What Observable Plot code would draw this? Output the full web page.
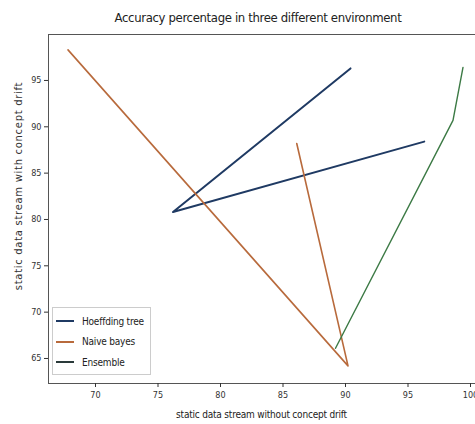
<!DOCTYPE html>
<html>
<head>
<meta charset="utf-8">
<script src="https://cdn.jsdelivr.net/npm/d3@7"></script>
<script src="https://cdn.jsdelivr.net/npm/@observablehq/plot@0.6"></script>
<style>
  body { margin: 0; background: #fff; }
  #wrap { position: relative; width: 475px; height: 424px; overflow: hidden; font-family: "DejaVu Sans", sans-serif; font-stretch: condensed; }
  #title { position: absolute; top: 10px; left: 48px; width: 420px; text-align: center; font-size: 13px; color: #222; white-space: nowrap; letter-spacing: -0.35px; }
  #xlabel { position: absolute; top: 409px; left: 48px; width: 427px; text-align: center; font-size: 10px; color: #222; white-space: nowrap; letter-spacing: -0.2px; }
  #ylabel { position: absolute; left: 18px; top: 186px; transform: translate(-50%, -50%) rotate(-90deg); font-size: 10px; color: #333; white-space: nowrap; letter-spacing: 0.7px; font-stretch: normal; }
  #legend { position: absolute; left: 52px; top: 307px; width: 99px; height: 68px; border: 1px solid #ccc; background: rgba(255,255,255,0.85); box-sizing: border-box; font-size: 10px; color: #222; }
  .row { position: absolute; left: 3px; height: 14px; display: flex; align-items: center; white-space: nowrap; letter-spacing: -0.2px; }
  .sw { width: 18px; height: 0; border-top: 2px solid; margin-right: 8px; }
</style>
</head>
<body>
<div id="wrap">
  <div id="chart"></div>
  <div id="title">Accuracy percentage in three different environment</div>
  <div id="xlabel">static data stream without concept drift</div>
  <div id="ylabel">static data stream with concept drift</div>
  <div id="legend"></div>
</div>
<script>
const seriesNames = ["Hoeffding tree", "Naive bayes", "Ensemble"];
const seriesColors = ["#1f3a63", "#b86a3c", "#3c7a45"];
const hoeffdingX = [90.4, 76.2, 96.3];
const hoeffdingY = [96.3, 80.8, 88.4];
const naiveX = [67.8, 90.2, 86.1];
const naiveY = [98.3, 64.2, 88.2];
const ensembleX = [99.4, 98.6, 89.2];
const ensembleY = [96.4, 90.7, 66.1];
const xTicks = [70, 75, 80, 85, 90, 95, 100];
const yTicks = [65, 70, 75, 80, 85, 90, 95];

const xs = [hoeffdingX, naiveX, ensembleX];
const ys = [hoeffdingY, naiveY, ensembleY];
const rows = [];
seriesNames.forEach((name, i) => {
  xs[i].forEach((x, j) => rows.push({series: name, x, y: ys[i][j]}));
});

const widths = [2, 1.6, 1.4];

const chart = Plot.plot({
  width: 475,
  height: 424,
  marginLeft: 48,
  marginTop: 34,
  marginBottom: 41,
  marginRight: 0,
  style: {fontFamily: '"DejaVu Sans", sans-serif', fontStretch: "condensed", fontSize: "9px", color: "#333", background: "#fff"},
  x: {domain: [66.24, 100.4], ticks: xTicks},
  y: {domain: [62.3, 99.96], ticks: yTicks},
  marks: [
    Plot.frame({anchor: "left", stroke: "#555"}),
    Plot.frame({anchor: "top", stroke: "#555"}),
    Plot.frame({anchor: "bottom", stroke: "#555"}),
    ...seriesNames.map((name, i) =>
      Plot.line(rows.filter(d => d.series === name), {x: "x", y: "y", stroke: seriesColors[i], strokeWidth: widths[i]})
    ),
    Plot.axisX({ticks: xTicks, tickSize: 4, tickPadding: 4, label: null}),
    Plot.axisY({ticks: yTicks, tickSize: 4, tickPadding: 3, label: null})
  ]
});
document.getElementById("chart").appendChild(chart);

const leg = document.getElementById("legend");
seriesNames.forEach((name, i) => {
  const r = document.createElement("div");
  r.className = "row";
  r.style.top = (6 + i * 20.5) + "px";
  const sw = document.createElement("div");
  sw.className = "sw";
  sw.style.borderColor = i === 2 ? "#2a3a3a" : seriesColors[i];
  r.appendChild(sw);
  const t = document.createElement("span");
  t.textContent = name;
  r.appendChild(t);
  leg.appendChild(r);
});
</script>
</body>
</html>
